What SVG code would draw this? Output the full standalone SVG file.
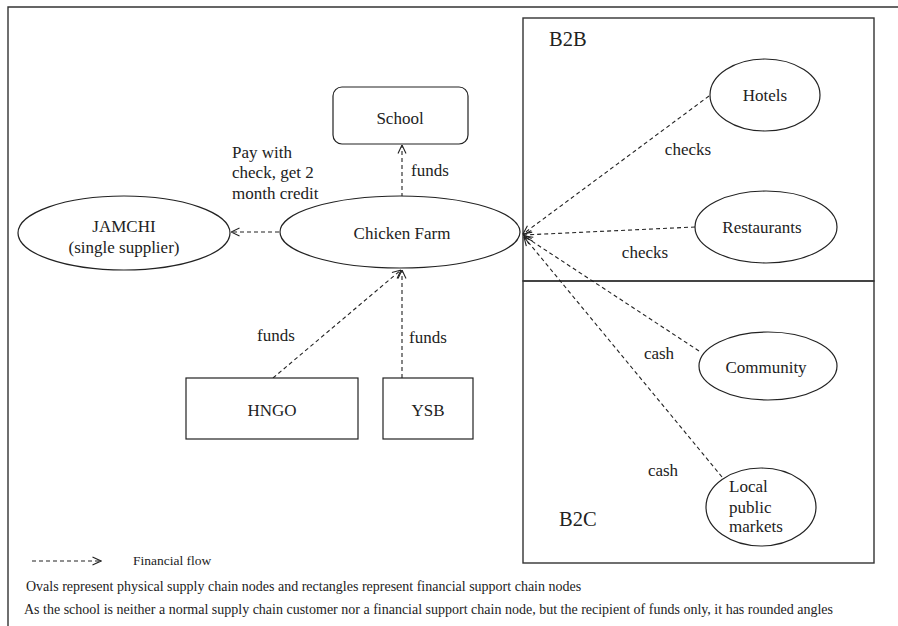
<svg xmlns="http://www.w3.org/2000/svg" width="898" height="626" viewBox="0 0 898 626" font-family="'Liberation Serif', 'DejaVu Serif', 'Times New Roman', serif">
<style>
text{font-family:'Liberation Serif','DejaVu Serif','Times New Roman',serif;fill:#222}
.n{font-size:17px;text-anchor:middle}
.l{font-size:17px}
.sh{fill:#fff;stroke:#222;stroke-width:1.2}
.fr{fill:none;stroke:#333;stroke-width:1.4}
.c{fill:none;stroke:#222;stroke-width:1.1;stroke-dasharray:4,3}
.lg{font-size:14px}
.big{font-size:20.5px}
</style>
<defs>
<marker id="ah" viewBox="0 0 10 10" refX="9.5" refY="5" markerWidth="10" markerHeight="10" markerUnits="userSpaceOnUse" orient="auto">
<path d="M1,1 L9.5,5 L1,9" fill="none" stroke="#222" stroke-width="1.1"/>
</marker>
</defs>
<rect width="898" height="626" fill="#fff"/>
<path class="fr" d="M8,626 V7 H898"/>
<g id="b2b"><rect class="fr" x="523" y="18" width="351" height="263"/><text class="big" x="549" y="46">B2B</text></g>
<g id="b2c"><rect class="fr" x="523" y="281" width="351" height="282"/><text class="big" x="559" y="526">B2C</text></g>

<g id="connectors">
<line class="c" x1="402" y1="197" x2="402" y2="145" marker-end="url(#ah)"/>
<line class="c" x1="293" y1="232" x2="231" y2="232" marker-end="url(#ah)"/>
<line class="c" x1="273" y1="378" x2="401" y2="270" marker-end="url(#ah)"/>
<line class="c" x1="402" y1="378" x2="402" y2="270" marker-end="url(#ah)"/>
<line class="c" x1="709" y1="96" x2="523" y2="234" marker-end="url(#ah)"/>
<line class="c" x1="695" y1="227" x2="523" y2="235" marker-end="url(#ah)"/>
<line class="c" x1="699" y1="351" x2="524" y2="236" marker-end="url(#ah)"/>
<line class="c" x1="722" y1="477" x2="524" y2="237" marker-end="url(#ah)"/>
<text class="l" x="411" y="176">funds</text>
<text class="l" x="232" y="158">Pay with</text>
<text class="l" x="232" y="178">check, get 2</text>
<text class="l" x="232" y="199">month credit</text>
<text class="l" x="257" y="341">funds</text>
<text class="l" x="409" y="343">funds</text>
<text class="n" x="688" y="155">checks</text>
<text class="n" x="645" y="258">checks</text>
<text class="n" x="659" y="359">cash</text>
<text class="n" x="663" y="476">cash</text>
</g>

<g id="school"><rect class="sh" x="333" y="87" width="135" height="57" rx="9"/><text class="n" x="400" y="124">School</text></g>
<g id="chicken-farm"><ellipse class="sh" cx="400" cy="232" rx="120" ry="36"/><text class="n" x="402" y="239">Chicken Farm</text></g>
<g id="jamchi"><ellipse class="sh" cx="124" cy="233" rx="106" ry="37"/><text class="n" x="124" y="232">JAMCHI</text><text class="n" x="124" y="253">(single supplier)</text></g>
<g id="hngo"><rect class="sh" x="186" y="378" width="172" height="61"/><text class="n" x="272" y="416">HNGO</text></g>
<g id="ysb"><rect class="sh" x="383" y="378" width="90" height="61"/><text class="n" x="428" y="416">YSB</text></g>
<g id="hotels"><ellipse class="sh" cx="765" cy="95" rx="55" ry="36"/><text class="n" x="765" y="101">Hotels</text></g>
<g id="restaurants"><ellipse class="sh" cx="766" cy="227" rx="71" ry="36"/><text class="n" x="762" y="233">Restaurants</text></g>
<g id="community"><ellipse class="sh" cx="768" cy="366" rx="69" ry="34"/><text class="n" x="766" y="373">Community</text></g>
<g id="markets"><ellipse class="sh" cx="761" cy="507" rx="55" ry="39"/><text class="l" x="729" y="492">Local</text><text class="l" x="729" y="513">public</text><text class="l" x="729" y="532">markets</text></g>

<g id="legend">
<line class="c" x1="32" y1="561" x2="101" y2="561" marker-end="url(#ah)"/>
<text class="lg" x="133" y="565" style="font-size:13.5px">Financial flow</text>
<text class="lg" x="26" y="591">Ovals represent physical supply chain nodes and rectangles represent financial support chain nodes</text>
<text class="lg" x="24" y="614">As the school is neither a normal supply chain customer nor a financial support chain node, but the recipient of funds only, it has rounded angles</text>
</g>
</svg>
